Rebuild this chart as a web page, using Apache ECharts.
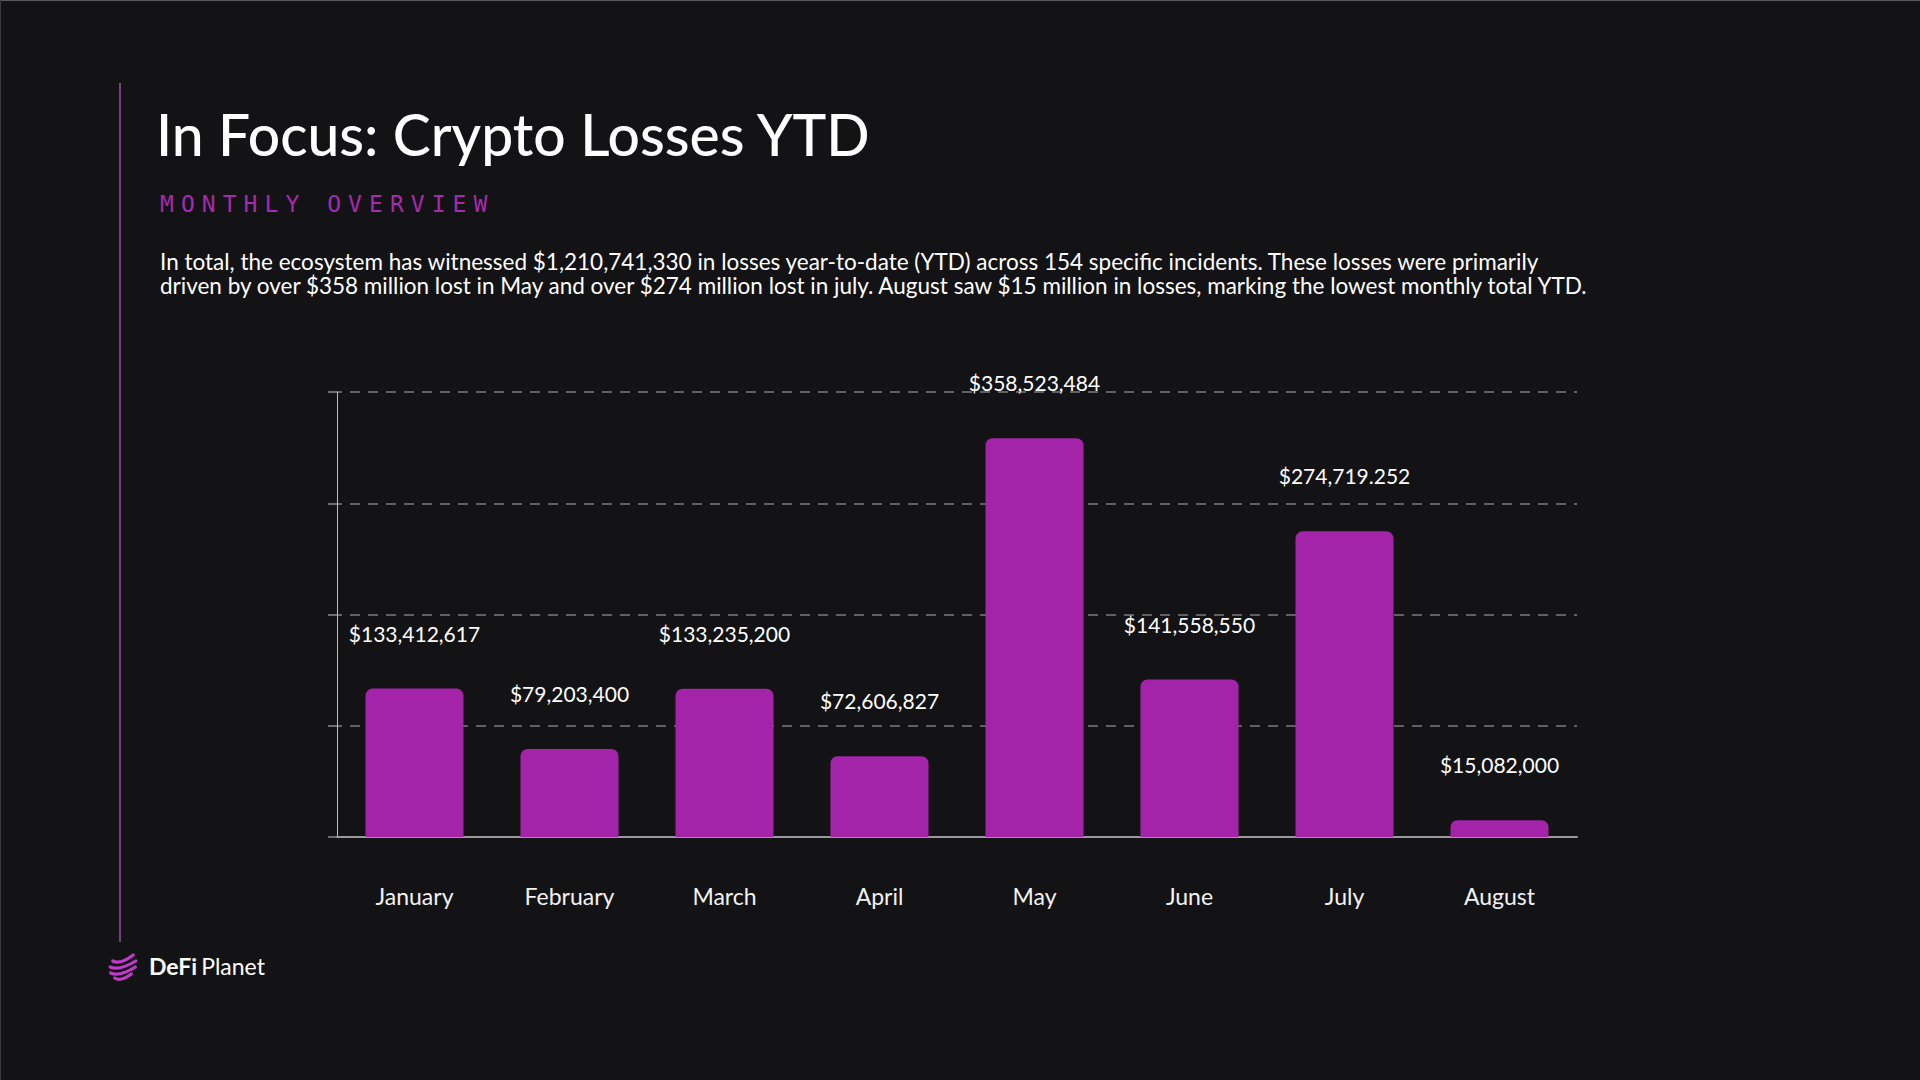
<!DOCTYPE html>
<html>
<head>
<meta charset="utf-8">
<style>
html,body{margin:0;padding:0;background:#131214;}
#chart{width:1920px;height:1080px;}
</style>
<script src="https://cdn.jsdelivr.net/npm/echarts@6/dist/echarts.min.js"></script>
</head>
<body>
<div id="chart"></div>
<script>
// ---- data ----
const months = ['January','February','March','April','May','June','July','August'];
const losses = [133412617, 79203400, 133235200, 72606827, 358523484, 141558550, 274719252, 15082000];
const valueLabels = ['$133,412,617','$79,203,400','$133,235,200','$72,606,827','$358,523,484','$141,558,550','$274,719.252','$15,082,000'];
const yTicks = [0, 100000000, 200000000, 300000000, 400000000];

const titleText = 'In Focus: Crypto Losses YTD';
const subtitleText = 'MONTHLY OVERVIEW';
const bodyLines = [
  'In total, the ecosystem has witnessed $1,210,741,330 in losses year-to-date (YTD) across 154 specific incidents. These losses were primarily',
  'driven by over $358 million lost in May and over $274 million lost in july. August saw $15 million in losses, marking the lowest monthly total YTD.'
];
const brandBold = 'DeFi';
const brandRegular = 'Planet';

// ---- styling ----
const FONT = 'Lato, "Open Sans", sans-serif';
const PURPLE = '#a324a8';

const chart = echarts.init(document.getElementById('chart'), null, {renderer: 'svg'});

const subtitleChars = subtitleText.split('').map((ch, i) => ({
  type: 'text',
  x: 160 + i * 20.9,
  y: 204,
  style: {
    text: ch, fill: '#a62aad', font: '23px "DejaVu Sans Mono", monospace',
    textAlign: 'left', textVerticalAlign: 'middle'
  }
}));

function stripe(dy, tilt) {
  const r = 13, cx = 123, cy = 966;
  const hw = Math.sqrt(Math.max(r * r - dy * dy, 4));
  return {
    type: 'bezierCurve',
    shape: {
      x1: cx - hw, y1: cy + dy + tilt,
      x2: cx + hw, y2: cy + dy - tilt,
      cpx1: cx - hw * 0.3, cpy1: cy + dy + tilt + 4
    },
    style: {stroke: '#c03acb', lineWidth: 3.2, fill: null, lineCap: 'round'}
  };
}

chart.setOption({
  backgroundColor: '#131214',
  animation: false,
  grid: {left: 337, right: 343, top: 392, bottom: 243, containLabel: false},
  xAxis: {
    type: 'category',
    data: months,
    axisLine: {show: true, lineStyle: {color: '#9a9a9a', width: 2}},
    axisTick: {show: false},
    axisLabel: {color: '#f2f2f2', fontSize: 23, fontFamily: FONT, margin: 47}
  },
  yAxis: {
    type: 'value',
    min: yTicks[0],
    max: yTicks[yTicks.length - 1],
    interval: yTicks[1] - yTicks[0],
    axisLabel: {show: false},
    axisLine: {show: true, lineStyle: {color: '#bdbdbd', width: 1}},
    axisTick: {show: true, length: 9, lineStyle: {color: '#8c8c8c', width: 1.5}},
    splitLine: {show: true, lineStyle: {color: '#7c7c7c', width: 1.5, type: [10, 8], dashOffset: 5}}
  },
  series: [{
    type: 'bar',
    data: losses,
    barWidth: 98,
    itemStyle: {color: PURPLE, borderRadius: [7, 7, 0, 0]},
    label: {
      show: true, position: 'top', distance: 45,
      color: '#ffffff', fontSize: 21, fontFamily: FONT,
      formatter: p => valueLabels[p.dataIndex]
    }
  }],
  graphic: [
    {type: 'line', shape: {x1: 0, y1: 0.5, x2: 1920, y2: 0.5}, style: {stroke: '#5a5a5a', lineWidth: 1}},
    {type: 'line', shape: {x1: 0.5, y1: 0, x2: 0.5, y2: 1080}, style: {stroke: '#3a3a3a', lineWidth: 1}},
    {type: 'line', shape: {x1: 120, y1: 83, x2: 120, y2: 942}, style: {stroke: '#7a3d85', lineWidth: 2}},
    {type: 'text', x: 156, y: 134, style: {
      text: titleText, fill: '#ffffff', font: '500 57px ' + FONT,
      textAlign: 'left', textVerticalAlign: 'middle'
    }},
    ...subtitleChars,
    {type: 'text', x: 160, y: 261, style: {
      text: bodyLines[0], fill: '#ffffff', font: '22.5px ' + FONT,
      textAlign: 'left', textVerticalAlign: 'middle'
    }},
    {type: 'text', x: 160, y: 285, style: {
      text: bodyLines[1], fill: '#ffffff', font: '22.5px ' + FONT,
      textAlign: 'left', textVerticalAlign: 'middle'
    }},
    stripe(-8, 3), stripe(-2, 3), stripe(4, 3), stripe(10, 2),
    {type: 'text', x: 149, y: 966, style: {
      text: '{b|' + brandBold + '}{r|' + brandRegular + '}',
      textAlign: 'left', textVerticalAlign: 'middle',
      rich: {
        b: {fontSize: 23, fontWeight: 'bold', fill: '#ffffff', fontFamily: FONT, padding: [0, 4, 0, 0]},
        r: {fontSize: 23, fontWeight: 'normal', fill: '#ffffff', fontFamily: FONT}
      }
    }}
  ]
});
</script>
</body>
</html>
